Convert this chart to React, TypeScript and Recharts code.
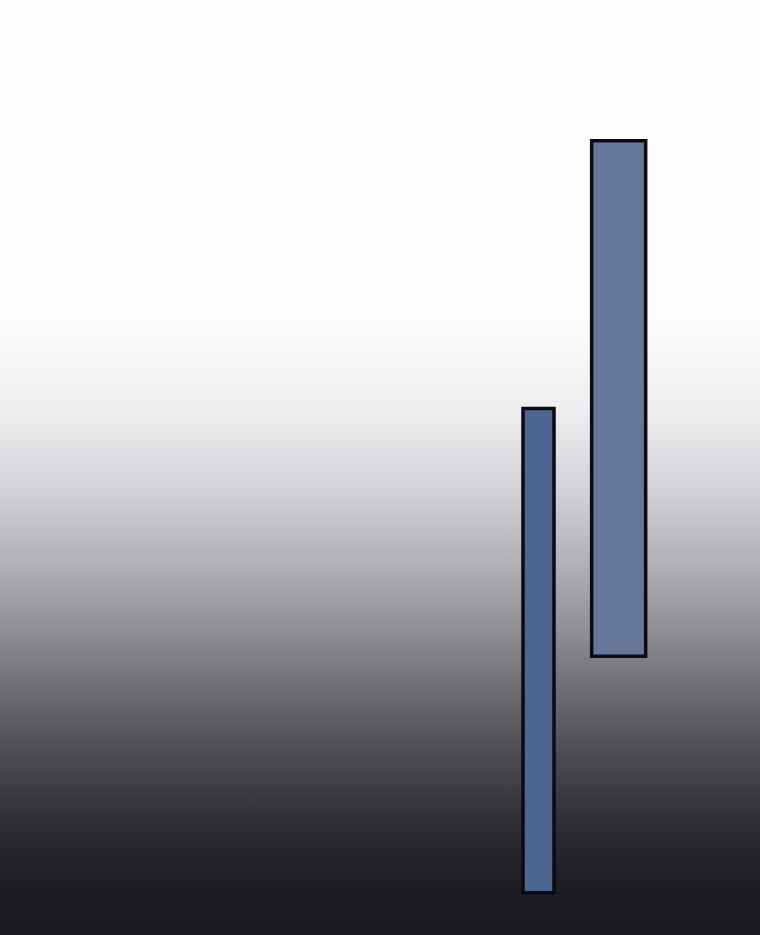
import { Bar, BarChart, XAxis, YAxis } from 'recharts'

const categories = ['A', 'B', 'C', 'D', 'E', 'F', 'G', 'H', 'I']
const seriesLow: (number[] | null)[] = [null, null, null, null, null, null, [2.5, 56.6], null, null]
const seriesHigh: (number[] | null)[] = [null, null, null, null, null, null, null, [28.9, 86.5], null]

const data = categories.map((name, i) => ({ name, low: seriesLow[i], high: seriesHigh[i] }))

export default function App() {
  return (
    <div
      style={{
        position: 'absolute',
        top: 0,
        left: 0,
        width: 760,
        height: 935,
        background:
          'linear-gradient(to bottom, #fdfdfd 0%, #fcfcfc 34%, #eeeef0 44%, #d0cfd4 53%, #b2b1b6 60%, #929196 67%, #6d6c71 74%, #4b4a50 81%, #2f2e34 88%, #1d1c22 95%, #1a191e 100%)',
      }}
    >
      <BarChart width={760} height={935} data={data} margin={{ top: 20, right: 20, bottom: 20, left: 14 }}>
        <XAxis xAxisId="a" dataKey="name" hide />
        <XAxis xAxisId="b" dataKey="name" hide />
        <YAxis domain={[0, 100]} hide />
        <Bar
          xAxisId="a"
          dataKey="low"
          barSize={31}
          fill="#4d6690"
          stroke="#0b0b14"
          strokeWidth={3.5}
          isAnimationActive={false}
        />
        <Bar
          xAxisId="b"
          dataKey="high"
          barSize={54}
          fill="#647799"
          stroke="#0b0b14"
          strokeWidth={3.5}
          isAnimationActive={false}
        />
      </BarChart>
    </div>
  )
}
